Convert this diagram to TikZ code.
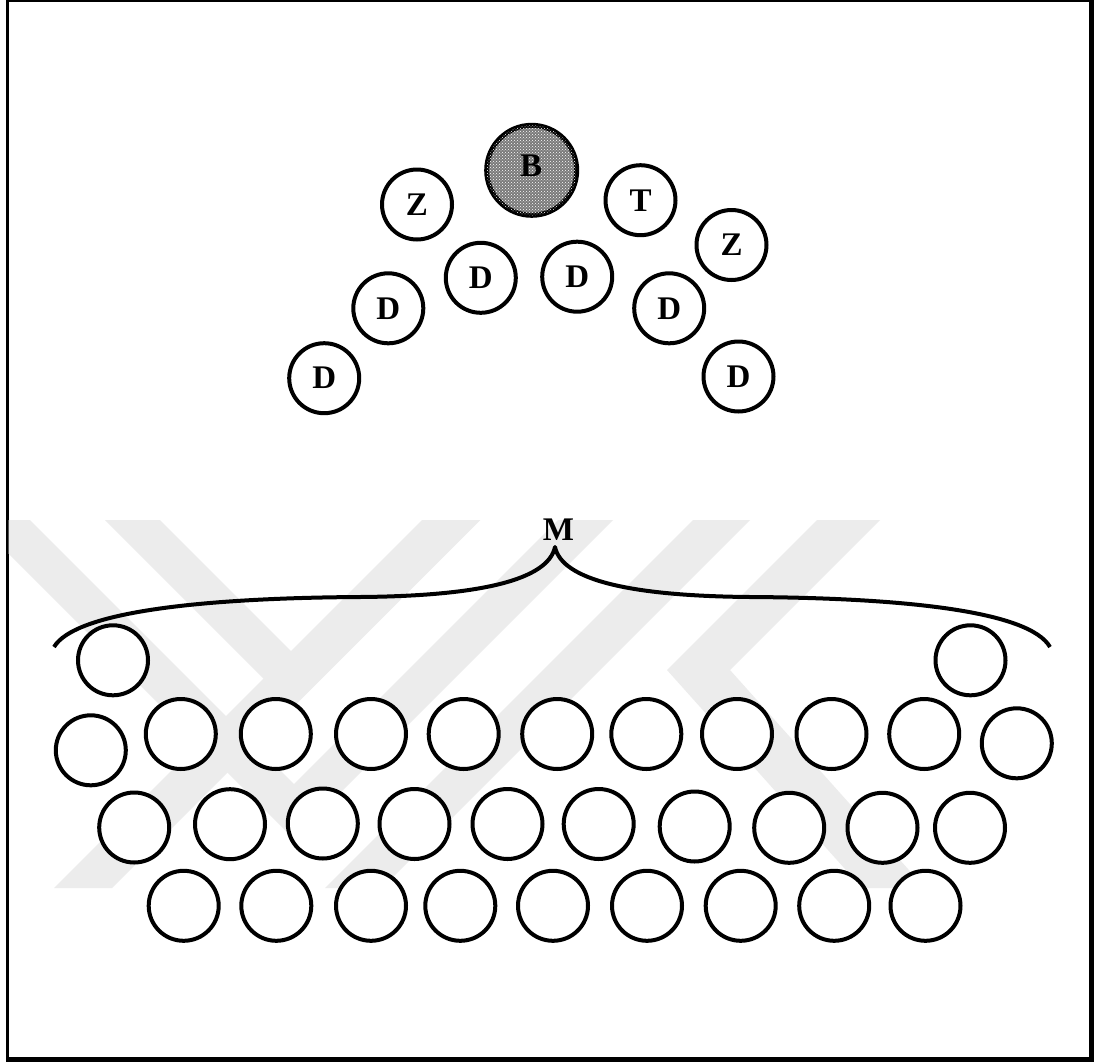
\documentclass[tikz,border=0pt]{standalone}
\usepackage{fontspec}
\setmainfont{Liberation Serif}
\usetikzlibrary{patterns}
\definecolor{wm}{RGB}{236,236,236}
\begin{document}
\begin{tikzpicture}[x=1pt,y=-1pt,
  seat/.style={circle,draw=black,line width=4pt,fill=white,minimum size=70pt,inner sep=0pt,
    font=\fontsize{33}{40}\selectfont\bfseries},
  lbl/.style={inner sep=0pt,font=\fontsize{33}{40}\selectfont\bfseries},
  bracestyle/.style={line width=4pt,line join=round}]
\useasboundingbox (0,0) rectangle (1098,1063);
% frame
\fill[black] (6,0) rectangle (1094,1061.7);
\fill[white] (8.5,2.2) rectangle (1089.3,1056.7);
% faint watermark
\begin{scope}
\clip (8.5,520) rectangle (1089.3,888);
\fill[wm] (-25,520) -- (294,839) -- (613,520) -- (558,520) -- (294,784) -- (30,520) -- cycle;
\fill[wm] (105,520) -- (292.5,707.5) -- (480,520) -- (425,520) -- (292.5,652.5) -- (160,520) -- cycle;
\fill[wm] (422,520) -- (480,520) -- (112,888) -- (54,888) -- cycle;
\fill[wm] (693,520) -- (750,520) -- (382,888) -- (325,888) -- cycle;
\fill[wm] (817,520) -- (880,520) -- (730,670) -- (925,888) -- (862,888) -- (667,670) -- cycle;
\end{scope}
% top group
\node[seat,line width=5pt,minimum size=90pt,fill=black!52,
  postaction={pattern=crosshatch dots,pattern color=white}] (b) at (531.7,170.3) {};
\node[lbl] (blabel) at (531,166) {B};
\node[seat] (z1) at (417,204.5) {Z};
\node[seat] (d1) at (480.8,277.8) {D};
\node[seat] (d2) at (388.3,308.3) {D};
\node[seat] (d3) at (324.2,378.2) {D};
\node[seat] (t) at (640.5,200.2) {T};
\node[seat] (z2) at (731.5,245) {Z};
\node[seat] (d4) at (577.2,276.7) {D};
\node[seat] (d5) at (669.2,308.3) {D};
\node[seat] (d6) at (738.5,376.5) {D};
% brace and label
\node[lbl] (m) at (558.5,530) {M};
\coordinate (bl) at (54,647);
\coordinate (bt) at (555,547);
\coordinate (br) at (1050,647);
\draw[bracestyle] (bl) .. controls (75,612) and (200,598) .. (360,597)
  .. controls (480,596) and (548,580) .. (bt)
  .. controls (562,580) and (630,596) .. (750,597)
  .. controls (910,598) and (1030,612) .. (br);
% bottom rows
\node[seat] (r0a) at (113,660.3) {};
\node[seat] (r0b) at (970.5,660.3) {};
\node[seat] (r1a) at (90.8,750.3) {};
\foreach \x [count=\i] in {180.8,275.8,371,463.7,557.2,646.3,737,831.5,924.2}
  \node[seat] (r1\i) at (\x,734) {};
\node[seat] (r1k) at (1016.8,743.3) {};
\foreach \x/\y [count=\i] in {134.2/827.5,230/824.2,322.8/823.5,414.5/824,507.5/824,598.7/824,694.7/826.5,789.2/827.8,882.5/827.8,970/827.8}
  \node[seat] (r2\i) at (\x,\y) {};
\foreach \x [count=\i] in {183.7,276.3,371,460.3,553,647,740.7,834.2,925.5}
  \node[seat] (r3\i) at (\x,905.8) {};
\end{tikzpicture}
\end{document}
